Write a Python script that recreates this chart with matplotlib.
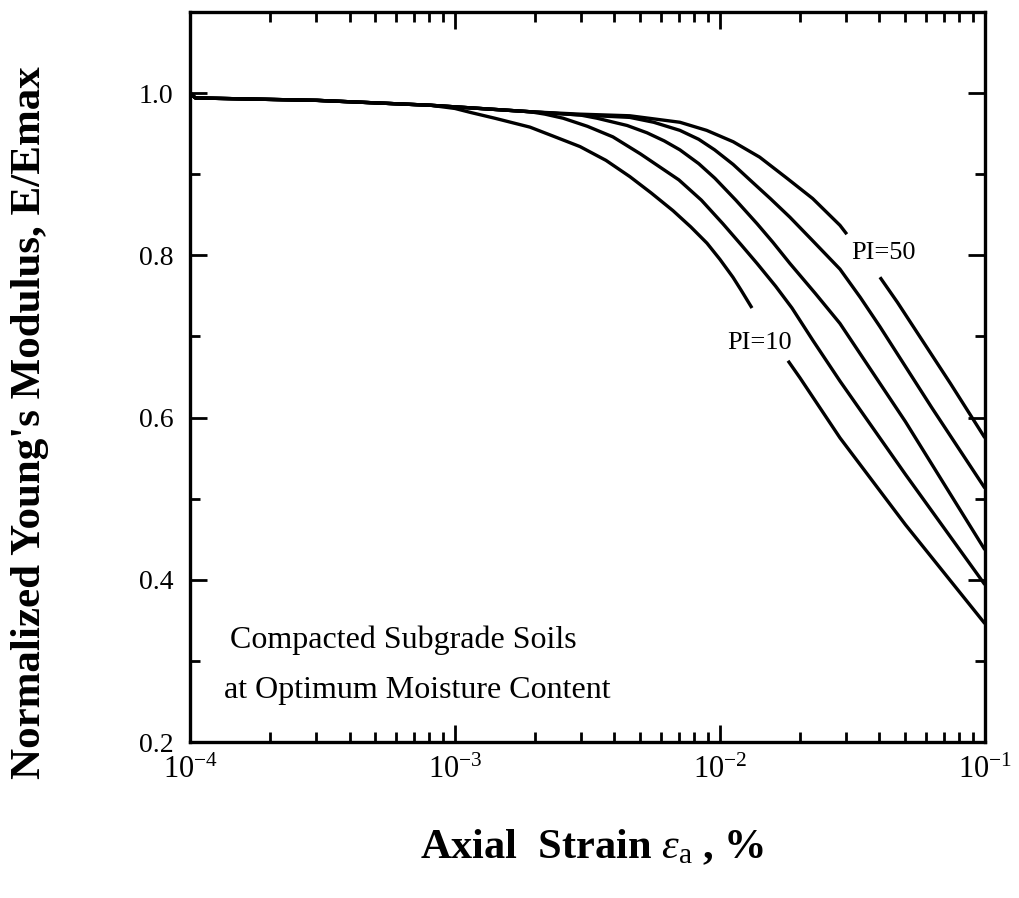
import numpy as np
import matplotlib
matplotlib.use("Agg")
import matplotlib.pyplot as plt
from matplotlib.ticker import MultipleLocator, LogLocator, NullFormatter

plt.rcParams['font.family'] = ['Liberation Serif', 'DejaVu Serif']
plt.rcParams['mathtext.fontset'] = 'custom'
plt.rcParams['mathtext.rm'] = 'Liberation Serif'
plt.rcParams['mathtext.it'] = 'Liberation Serif:italic'
plt.rcParams['mathtext.bf'] = 'Liberation Serif:bold'

# shared flat part at small strain (log10 of strain in %, E/Emax)
common_log = [-4.0, -3.98, -3.52, -3.094]
common_val = [1.0, 0.994, 0.991, 0.985]

# each curve after it leaves the common line; nan = gap left for a label
pi10_log = [-3.0, -2.94, -2.85, -2.717, -2.63, -2.528, -2.43, -2.34, -2.26, -2.177, -2.11,
            -2.049, -2.0, -1.951, -1.92, -1.879, np.nan, -1.743, -1.698, -1.547, -1.3, -1.0]
pi10_val = [0.981, 0.976, 0.969, 0.958, 0.947, 0.934, 0.917, 0.897, 0.877, 0.855, 0.835,
            0.815, 0.795, 0.773, 0.757, 0.735, np.nan, 0.670, 0.649, 0.575, 0.468, 0.346]

pi20_log = [-2.717, -2.66, -2.592, -2.50, -2.404, -2.30, -2.155, -2.07, -1.989, -1.92,
            -1.860, -1.79, -1.728, -1.649, -1.547, -1.3, -1.0]
pi20_val = [0.977, 0.974, 0.969, 0.959, 0.946, 0.925, 0.893, 0.868, 0.839, 0.813,
            0.790, 0.762, 0.735, 0.695, 0.645, 0.530, 0.394]

pi30_log = [-2.717, -2.528, -2.464, -2.35, -2.275, -2.21, -2.151, -2.08, -2.019, -1.94,
            -1.860, -1.80, -1.736, -1.64, -1.547, -1.3, -1.0]
pi30_val = [0.977, 0.973, 0.969, 0.960, 0.951, 0.941, 0.930, 0.913, 0.895, 0.868,
            0.839, 0.816, 0.790, 0.753, 0.716, 0.595, 0.437]

pi40_log = [-2.717, -2.528, -2.34, -2.25, -2.151, -2.08, -2.02, -1.95, -1.887, -1.81,
            -1.736, -1.65, -1.547, -1.47, -1.396, -1.2, -1.0]
pi40_val = [0.977, 0.973, 0.970, 0.964, 0.954, 0.943, 0.930, 0.912, 0.893, 0.870,
            0.847, 0.818, 0.783, 0.748, 0.712, 0.612, 0.513]

pi50_log = [-2.717, -2.528, -2.34, -2.151, -2.05, -1.95, -1.85, -1.747, -1.65, -1.547,
            -1.521, np.nan, -1.396, -1.33, -1.264, -1.13, -1.0]
pi50_val = [0.977, 0.974, 0.972, 0.964, 0.954, 0.940, 0.921, 0.895, 0.870, 0.837,
            0.826, np.nan, 0.773, 0.742, 0.709, 0.642, 0.575]

curves = [(pi10_log, pi10_val), (pi20_log, pi20_val), (pi30_log, pi30_val),
          (pi40_log, pi40_val), (pi50_log, pi50_val)]

fig = plt.figure(figsize=(10.19, 8.98), dpi=100)
ax = fig.add_axes([0.1865, 0.1737, 0.78, 0.813])

for lg, val in curves:
    lg_all = np.array(common_log + lg)
    val_all = np.array(common_val + val)
    ax.plot(10 ** lg_all, val_all, color='black', lw=2.4, solid_capstyle='butt',
            solid_joinstyle='round')

ax.set_xscale('log')
ax.set_xlim(1e-4, 1e-1)
ax.set_ylim(0.2, 1.1)

ax.yaxis.set_minor_locator(MultipleLocator(0.1))
ax.set_yticks([0.2, 0.4, 0.6, 0.8, 1.0])
ax.set_yticklabels(['0.2', '0.4', '0.6', '0.8', '1.0'])
ax.xaxis.set_minor_locator(LogLocator(base=10, subs=np.arange(2, 10)))
ax.xaxis.set_minor_formatter(NullFormatter())
ax.set_xticks([1e-4, 1e-3, 1e-2, 1e-1])
ax.set_xticklabels([r'$10^{-4}$', r'$10^{-3}$', r'$10^{-2}$', r'$10^{-1}$'])

ax.tick_params(which='both', direction='in', top=True, right=True, width=2, labelsize=20)
ax.tick_params(which='major', length=12)
ax.tick_params(which='minor', length=7)
ax.tick_params(axis='y', pad=12)
ax.tick_params(axis='x', pad=10, labelsize=22)
for s in ax.spines.values():
    s.set_linewidth(2.4)

ax.set_ylabel("Normalized Young's Modulus, E/Emax", fontsize=31, fontweight='bold')
ax.yaxis.set_label_coords(-0.178, 0.438)
ax.set_xlabel(r"Axial  Strain $\varepsilon_{\rm a}$ , %", fontsize=30.5, fontweight='bold')
ax.xaxis.set_label_coords(0.506, -0.117)

ax.text(10 ** -1.849, 0.692, 'PI=10', fontsize=19, ha='center', va='center')
ax.text(10 ** -1.381, 0.803, 'PI=50', fontsize=19, ha='center', va='center')

ax.text(10 ** -3.85, 0.325, 'Compacted Subgrade Soils', fontsize=23, ha='left', va='center')
ax.text(10 ** -3.87, 0.263, 'at Optimum Moisture Content', fontsize=23, ha='left', va='center')

fig.savefig('out.png', dpi=100)
